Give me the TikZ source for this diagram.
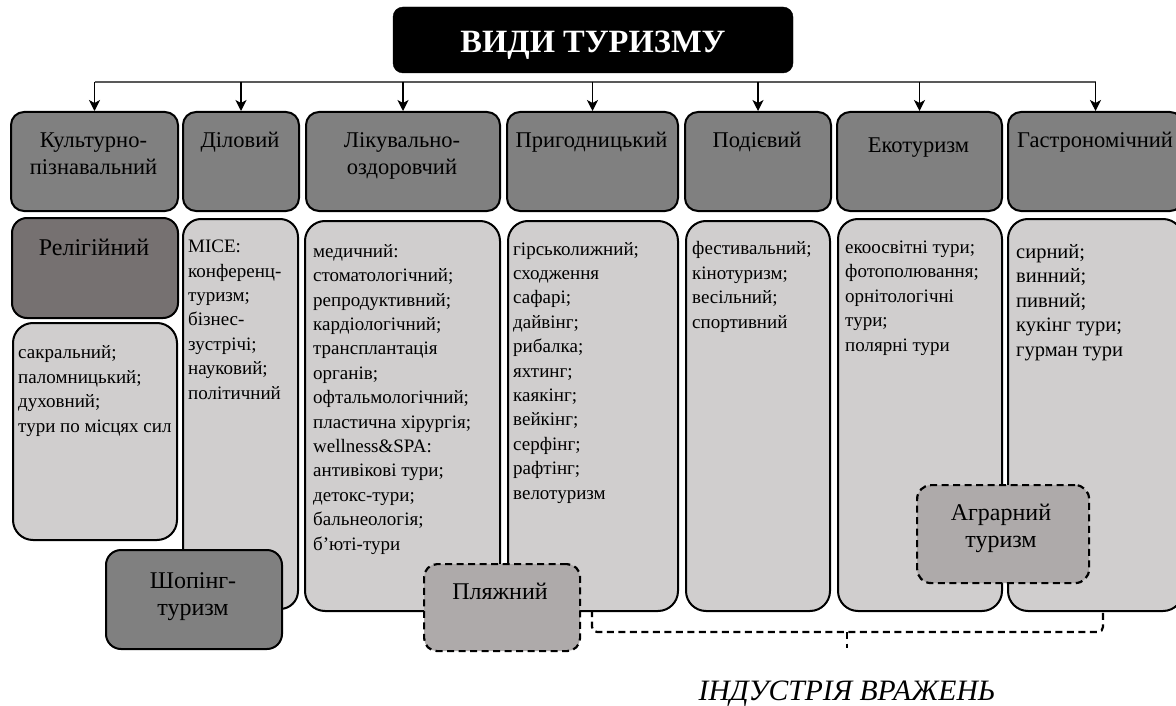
\documentclass[tikz,border=0pt]{standalone}
\usepackage{fontspec}
\setmainfont{Liberation Serif}
\usepackage{tikz}
\usetikzlibrary{positioning, arrows.meta, calc}

\definecolor{headgray}{HTML}{808080}
\definecolor{boxgray}{HTML}{D0CECE}
\definecolor{relgray}{HTML}{767171}
\definecolor{dashgray}{HTML}{AEAAAA}
\definecolor{busgray}{HTML}{595959}

\begin{document}
\begin{tikzpicture}[
    x=1pt, y=-1pt,
    >={Stealth[length=11pt, width=11pt, inset=3pt]},
    hbox/.style={draw, line width=2pt, rounded corners=13pt, fill=headgray,
                 anchor=north west, inner sep=0pt, minimum height=99pt},
    cbox/.style={draw, line width=2pt, rounded corners=20pt, fill=boxgray,
                 anchor=north west, inner sep=0pt},
    dbox/.style={draw, line width=2.2pt, dash pattern=on 7pt off 4.5pt,
                 rounded corners=13pt, fill=dashgray, anchor=north west, inner sep=0pt},
    htext/.style={align=center, anchor=base, inner sep=0pt,
                  font=\fontsize{22.5}{27}\selectfont},
    ctext/.style={align=left, anchor=base west, inner sep=0pt,
                  font=\fontsize{19}{24.4}\selectfont},
    btext/.style={align=center, anchor=base, inner sep=0pt,
                  font=\fontsize{24}{27}\selectfont},
    dline/.style={line width=2.2pt, dash pattern=on 7pt off 4.5pt},
]
  \useasboundingbox (0,0) rectangle (1176,706);
  % Title
  \node[draw, fill=black, rounded corners=10pt, minimum width=400pt, minimum height=66pt,
        text=white, text height=26pt, text depth=0pt,
        font=\bfseries\fontsize{32.5}{36}\selectfont] (title) at (593,40) {ВИДИ ТУРИЗМУ};
  % Kinds of tourism (text nodes sit on the baseline of their last line)
  \node[hbox, minimum width=167pt] (k1) at (10,111) {};
  \node[hbox, minimum width=116pt] (k2) at (182,111) {};
  \node[hbox, minimum width=194pt] (k3) at (305,111) {};
  \node[hbox, minimum width=171pt] (k4) at (506,111) {};
  \node[hbox, minimum width=146pt] (k5) at (684,111) {};
  \node[hbox, minimum width=165pt] (k6) at (836,111) {};
  \node[hbox, minimum width=175pt] (k7) at (1007,111) {};
  \node[htext] (k1t) at (93.5,175) {Культурно-\\пізнавальний};
  \node[htext] (k2t) at (240,148) {Діловий};
  \node[htext] (k3t) at (402,175) {Лікувально-\\оздоровчий};
  \node[htext] (k4t) at (591.5,148) {Пригодницький};
  \node[htext] (k5t) at (757,148) {Подієвий};
  \node[htext] (k6t) at (918.5,153) {Екотуризм};
  \node[htext] (k7t) at (1095,148) {Гастрономічний};
  % Bus and arrows
  \coordinate (bus) at (0,82);
  \draw[line width=1.5pt, busgray] (bus -| k1.north) -- (bus -| k7.north);
  \foreach \k in {k1,k2,k3,k4,k5,k6,k7}
    \draw[line width=1.2pt, ->] (bus -| \k.north) -- (\k.north);
  % Subtypes
  \node[cbox, fill=relgray, rounded corners=15pt, minimum width=166pt, minimum height=100pt] (rel) at (11,217) {};
  \node[btext] (relt) at (94,255) {Релігійний};
  \node[cbox, minimum width=164pt, minimum height=217pt] (sac) at (12,322) {};
  \node[ctext] (sact) at (18,432) {сакральний;\\паломницький;\\духовний;\\тури по місцях сил};
  \node[cbox, rounded corners=18pt, minimum width=115pt, minimum height=390pt] (c2) at (182,218) {};
  \node[ctext] (c2t) at (188,399) {MICE:\\конференц-\\туризм;\\бізнес-\\зустрічі;\\науковий;\\політичний};
  \node[cbox, minimum width=195pt, minimum height=390pt] (c3) at (304,220) {};
  \node[ctext] (c3t) at (313,550) {медичний:\\стоматологічний;\\репродуктивний;\\кардіологічний;\\трансплантація\\органів;\\офтальмологічний;\\пластична хірургія;\\wellness\&SPA:\\антивікові тури;\\детокс-тури;\\бальнеологія;\\б’юті-тури};
  \node[cbox, minimum width=170pt, minimum height=390pt] (c4) at (507,220) {};
  \node[ctext] (c4t) at (513,499) {гірськолижний;\\сходження\\сафарі;\\дайвінг;\\рибалка;\\яхтинг;\\каякінг;\\вейкінг;\\серфінг;\\рафтінг;\\велотуризм};
  \node[cbox, minimum width=144pt, minimum height=390pt] (c5) at (685,220) {};
  \node[ctext] (c5t) at (692,328) {фестивальний;\\кінотуризм;\\весільний;\\спортивний};
  \node[cbox, minimum width=164pt, minimum height=392pt] (c6) at (837,218) {};
  \node[ctext] (c6t) at (845,351) {екоосвітні тури;\\фотополювання;\\орнітологічні\\тури;\\полярні тури};
  \node[cbox, minimum width=175pt, minimum height=392pt] (c7) at (1007,218) {};
  \node[ctext, font=\fontsize{20.5}{24.4}\selectfont] (c7t) at (1016,356) {сирний;\\винний;\\пивний;\\кукінг тури;\\гурман тури};
  % Overlapping kinds
  \node[cbox, fill=headgray, rounded corners=15pt, minimum width=176pt, minimum height=99pt] (shop) at (105,549) {};
  \node[btext] (shopt) at (193,615) {Шопінг-\\туризм};
  \node[dbox, minimum width=156pt, minimum height=87pt] (beach) at (423,563) {};
  \node[btext] (beacht) at (500,599) {Пляжний};
  \node[dbox, rounded corners=14pt, minimum width=172pt, minimum height=98pt] (agro) at (916,484) {};
  \node[btext] (agrot) at (1001,547) {Аграрний\\туризм};
  % Experience industry
  \coordinate (brL) at (592,610);
  \coordinate (brR) at (1103,610);
  \coordinate (brM) at (847,632);
  \node[anchor=base, inner sep=0pt, font=\itshape\fontsize{29.6}{34}\selectfont] (ind) at (847,700) {ІНДУСТРІЯ ВРАЖЕНЬ};
  \draw[dline, rounded corners=5pt] (brL) |- (brR |- brM) -- (brR);
  \draw[dline] (brM) -- ($(brM)!16pt!(ind.north)$);
\end{tikzpicture}
\end{document}
